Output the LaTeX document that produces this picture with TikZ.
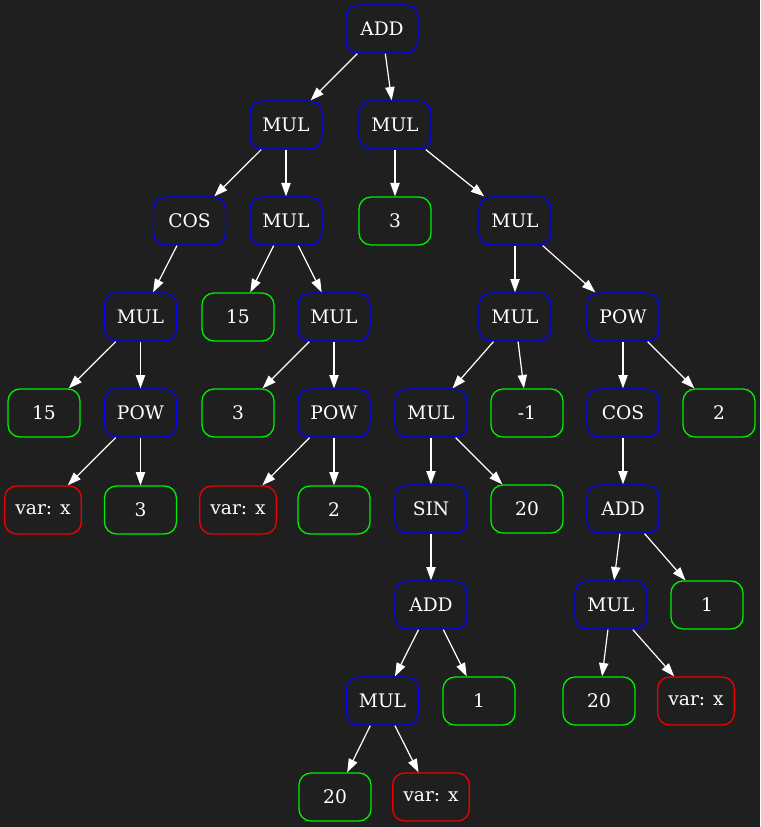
\documentclass[tikz,border=0pt]{standalone}
\usepackage{fontspec}
\setmainfont{DejaVu Serif}
\usetikzlibrary{arrows.meta}
\definecolor{bg}{HTML}{1F1F1F}
\definecolor{opblue}{HTML}{0000FF}
\definecolor{numgreen}{HTML}{00EE00}
\definecolor{varred}{HTML}{EE0000}
\tikzset{
  tnode/.style={draw, line width=1pt, rounded corners=9pt, minimum width=54pt, minimum height=36pt,
    inner xsep=8pt, text=white, font=\fontsize{14}{16}\selectfont},
  op/.style={tnode, draw=opblue},
  num/.style={tnode, draw=numgreen},
  var/.style={tnode, draw=varred},
  edge/.style={draw=white, line width=0.9pt, -{Triangle[length=10pt,width=7pt]}}
}
\begin{document}
\begin{tikzpicture}[x=0.75pt,y=-0.75pt]
\fill[bg] (0,0) rectangle (760,827);
\useasboundingbox (0,0) rectangle (760,827);
% row 1
\node[op] (a1) at (382,29) {ADD};
% row 2
\node[op] (b1) at (286,125) {MUL};
\node[op] (b2) at (395,125) {MUL};
% row 3
\node[op] (c1) at (189.5,221) {COS};
\node[op] (c2) at (286,221) {MUL};
\node[num] (c3) at (395,221) {3};
\node[op] (c4) at (515,221) {MUL};
% row 4
\node[op] (d1) at (140.5,317) {MUL};
\node[num] (d2) at (238,317) {15};
\node[op] (d3) at (334,317) {MUL};
\node[op] (d4) at (515,317) {MUL};
\node[op] (d5) at (623,317) {POW};
% row 5
\node[num] (e1) at (44,413) {15};
\node[op] (e2) at (140.5,413) {POW};
\node[num] (e3) at (238,413) {3};
\node[op] (e4) at (334,413) {POW};
\node[op] (e5) at (431,413) {MUL};
\node[num] (e6) at (527,413) {-1};
\node[op] (e7) at (623,413) {COS};
\node[num] (e8) at (719,413) {2};
% row 6
\node[var] (f1) at (43,510) {var: x};
\node[num] (f2) at (140.5,510) {3};
\node[var] (f3) at (238,510) {var: x};
\node[num] (f4) at (334,510) {2};
\node[op] (f5) at (431,509) {SIN};
\node[num] (f6) at (527,509) {20};
\node[op] (f7) at (623,509) {ADD};
% row 7
\node[op] (g1) at (431,605) {ADD};
\node[op] (g2) at (611,605) {MUL};
\node[num] (g3) at (707,605) {1};
% row 8
\node[op] (h1) at (382.5,701) {MUL};
\node[num] (h2) at (479,701) {1};
\node[num] (h3) at (599,701) {20};
\node[var] (h4) at (696,701) {var: x};
% row 9
\node[num] (i1) at (335,797) {20};
\node[var] (i2) at (431,797) {var: x};
% edges
\foreach \p/\c in {a1/b1,a1/b2,b1/c1,b1/c2,b2/c3,b2/c4,c1/d1,c2/d2,c2/d3,c4/d4,c4/d5,
  d1/e1,d1/e2,d3/e3,d3/e4,d4/e5,d4/e6,d5/e7,d5/e8,e2/f1,e2/f2,e4/f3,e4/f4,e5/f5,e5/f6,e7/f7,
  f5/g1,f7/g2,f7/g3,g1/h1,g1/h2,g2/h3,g2/h4,h1/i1,h1/i2}
  \draw[edge] (\p) -- (\c);
\end{tikzpicture}
\end{document}
